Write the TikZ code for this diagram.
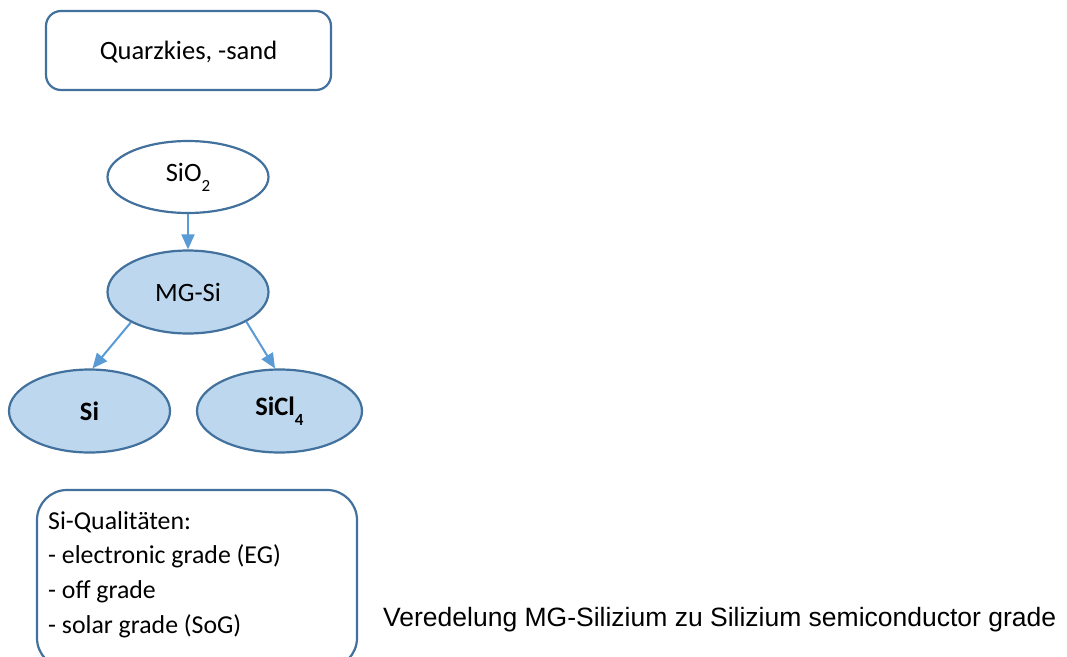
\documentclass[tikz,border=0pt]{standalone}
\usepackage{fontspec}
\setmainfont{Carlito}
\newfontfamily\arialfont{Liberation Sans}
\usetikzlibrary{shapes.geometric,arrows.meta}
\definecolor{edgeblue}{HTML}{41719C}
\definecolor{arrowblue}{HTML}{5B9BD5}
\definecolor{fillblue}{HTML}{BDD7EE}
\newcommand{\lowidx}[1]{\raisebox{-0.8ex}{\fontsize{17}{17}\selectfont #1}}
\tikzset{
  every node/.style={font=\fontsize{26.5}{35}\selectfont},
  infobox/.style={draw=edgeblue, line width=2.2pt, rounded corners=15pt, fill=white},
  plainoval/.style={ellipse, draw=edgeblue, line width=2.2pt, fill=white, minimum width=161pt, minimum height=72pt, inner sep=0pt},
  fulloval/.style={ellipse, draw=edgeblue, line width=2.2pt, fill=fillblue, minimum width=161pt, minimum height=83pt, inner sep=0pt},
  flow/.style={draw=arrowblue, line width=2pt, -{Triangle[length=15pt,width=13pt]}}
}
\begin{document}
\begin{tikzpicture}[x=1pt,y=-1pt]
\useasboundingbox (0,0) rectangle (1067,656);
\clip (0,0) rectangle (1067,656);
% source material
\draw[infobox] (46,11) rectangle (331,90);
\node (quarz) at (188.5,52) {Quarzkies, -sand};
% process chain
\node[plainoval] (sio) at (188,177) {SiO\lowidx{2}};
\node[fulloval] (mgsi) at (188,292) {MG-Si};
\node[fulloval, minimum width=161pt] (si) at (89.5,411) {\textbf{Si}};
\node[fulloval, minimum width=165pt] (sicl) at (279.5,411) {\textbf{SiCl\lowidx{4}}};
\draw[flow] (sio) -- (mgsi);
\draw[flow] (mgsi.-152) -- (si.86);
\draw[flow] (mgsi.-27) -- (sicl.96);
% quality grades
\draw[infobox, rounded corners=30pt] (37,490) rectangle (357,668);
\node[anchor=north west, align=left, inner sep=0pt, font=\fontsize{25.8}{34.8}\selectfont] (grades) at (48,511)
  {Si-Qualitäten:\\- electronic grade (EG)\\- off grade\\- solar grade (SoG)};
\node[anchor=west, inner sep=0pt, font=\arialfont\fontsize{26.5}{30}\selectfont] (caption) at (383,620)
  {Veredelung MG-Silizium zu Silizium semiconductor grade};
\end{tikzpicture}
\end{document}
